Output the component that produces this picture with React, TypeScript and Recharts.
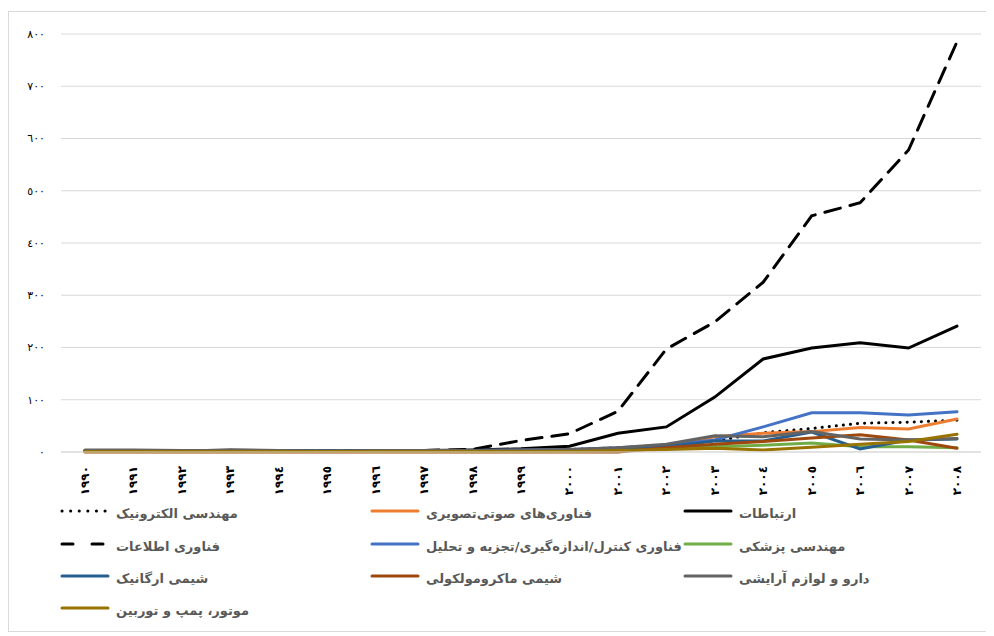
import React from "react";
import { LineChart, Line, XAxis, YAxis, CartesianGrid } from "recharts";

const years = [
  "١٩٩٠", "١٩٩١", "١٩٩٢", "١٩٩٣", "١٩٩٤", "١٩٩٥", "١٩٩٦", "١٩٩٧", "١٩٩٨", "١٩٩٩",
  "٢٠٠٠", "٢٠٠١", "٢٠٠٢", "٢٠٠٣", "٢٠٠٤", "٢٠٠٥", "٢٠٠٦", "٢٠٠٧", "٢٠٠٨",
];

const yTicks = [0, 100, 200, 300, 400, 500, 600, 700, 800];
const yTickLabels = ["٠", "١٠٠", "٢٠٠", "٣٠٠", "٤٠٠", "٥٠٠", "٦٠٠", "٧٠٠", "٨٠٠"];

const electronics = [2, 2, 2, 2, 2, 2, 2, 2, 2, 3, 5, 8, 12, 21, 37, 45, 55, 57, 61];
const audioVisual = [1, 1, 1, 1, 1, 1, 1, 1, 1, 2, 3, 6, 12, 29, 36, 39, 47, 44, 63];
const telecom = [3, 3, 2, 4, 3, 2, 3, 3, 4, 6, 11, 36, 48, 105, 178, 199, 209, 199, 241];
const infoTech = [2, 2, 2, 3, 2, 2, 3, 3, 5, 22, 35, 78, 197, 249, 325, 452, 477, 578, 785];
const control = [2, 2, 2, 2, 2, 2, 2, 3, 3, 4, 5, 8, 13, 23, 48, 75, 75, 71, 77];
const medical = [1, 1, 1, 1, 1, 1, 1, 1, 1, 1, 2, 4, 6, 10, 13, 17, 10, 10, 8];
const organic = [3, 3, 2, 2, 2, 1, 2, 3, 3, 3, 4, 6, 10, 21, 21, 38, 6, 23, 25];
const macro = [0, 0, 0, 0, 0, 0, 0, 0, 0, 0, 0, 0, 8, 15, 20, 27, 33, 23, 7];
const pharma = [4, 4, 3, 3, 3, 2, 3, 3, 3, 4, 5, 8, 15, 31, 29, 39, 25, 23, 26];
const motor = [1, 1, 1, 1, 1, 1, 1, 1, 1, 1, 1, 3, 5, 7, 4, 9, 15, 20, 34];

const seriesDefs = [
  { key: "electronics", name: "مهندسی الکترونیک", values: electronics, color: "#000000", dash: "0.1 7" },
  { key: "audioVisual", name: "فناوری‌های صوتی‌تصویری", values: audioVisual, color: "#ED7D31" },
  { key: "telecom", name: "ارتباطات", values: telecom, color: "#000000" },
  { key: "infoTech", name: "فناوری اطلاعات", values: infoTech, color: "#000000", dash: "16 10" },
  { key: "control", name: "فناوری کنترل/اندازه‌گیری/تجزیه و تحلیل", values: control, color: "#4472C4" },
  { key: "medical", name: "مهندسی پزشکی", values: medical, color: "#70AD47" },
  { key: "organic", name: "شیمی ارگانیک", values: organic, color: "#255E91" },
  { key: "macro", name: "شیمی ماکرومولکولی", values: macro, color: "#9E480E" },
  { key: "pharma", name: "دارو و لوازم آرایشی", values: pharma, color: "#636363" },
  { key: "motor", name: "موتور، پمپ و توربین", values: motor, color: "#997300" },
];

const data = years.map((year, i) => {
  const row: Record<string, string | number> = { year };
  seriesDefs.forEach((s) => {
    row[s.key] = s.values[i];
  });
  return row;
});

const font = "'DejaVu Sans', sans-serif";

// rotated year labels, reading bottom to top
const YearTick = (props: any) => {
  const { x, y, payload } = props;
  return (
    <text
      x={x}
      y={y}
      transform={`rotate(-90, ${x}, ${y})`}
      textAnchor="end"
      dominantBaseline="central"
      fontSize={12}
      fontWeight="bold"
      fill="#000"
      fontFamily={font}
    >
      {payload.value}
    </text>
  );
};

// legend layout (relative to the bordered box)
const legendCols = [51, 361, 674];
const legendRows = [499, 532, 564, 596];

export default function App() {
  return (
    <div
      style={{
        position: "relative",
        marginTop: 3,
        width: 980,
        height: 619,
        border: "1px solid #d9d9d9",
        background: "#fff",
        fontFamily: font,
      }}
    >
      <LineChart
        width={980}
        height={500}
        data={data}
        margin={{ top: 22, right: 8, bottom: 20, left: 0 }}
      >
        <CartesianGrid vertical={false} stroke="#d9d9d9" />
        <XAxis
          dataKey="year"
          padding={{ left: 24, right: 24 }}
          axisLine={{ stroke: "#d9d9d9" }}
          tickLine={false}
          interval={0}
          height={40}
          tick={<YearTick />}
          tickMargin={8}
        />
        <YAxis
          width={52}
          domain={[0, 800]}
          ticks={yTicks}
          axisLine={false}
          tickLine={false}
          tickMargin={10}
          tickFormatter={(v: number) => yTickLabels[yTicks.indexOf(v)]}
          tick={{ fontSize: 11, fill: "#000", fontFamily: font }}
        />
        {seriesDefs.map((s) => (
          <Line
            key={s.key}
            dataKey={s.key}
            name={s.name}
            type="linear"
            stroke={s.color}
            strokeWidth={3}
            strokeDasharray={s.dash}
            strokeLinecap="round"
            dot={false}
            activeDot={false}
            isAnimationActive={false}
          />
        ))}
      </LineChart>
      {seriesDefs.map((s, i) => {
        const col = i % 3;
        const row = Math.floor(i / 3);
        return (
          <div
            key={s.key}
            style={{
              position: "absolute",
              left: legendCols[col],
              top: legendRows[row] - 10,
              height: 20,
              display: "flex",
              alignItems: "center",
              whiteSpace: "nowrap",
            }}
          >
            <svg width={50} height={20}>
              <line
                x1={2}
                y1={10}
                x2={48}
                y2={10}
                stroke={s.color}
                strokeWidth={3}
                strokeDasharray={s.dash === "0.1 7" ? "0.1 8.5" : s.dash ? "11 19" : undefined}
                strokeLinecap="round"
              />
            </svg>
            <span
              dir="rtl"
              style={{ marginLeft: 6, marginTop: 5, fontSize: 13, fontWeight: "bold", color: "#595959" }}
            >
              {s.name}
            </span>
          </div>
        );
      })}
    </div>
  );
}
